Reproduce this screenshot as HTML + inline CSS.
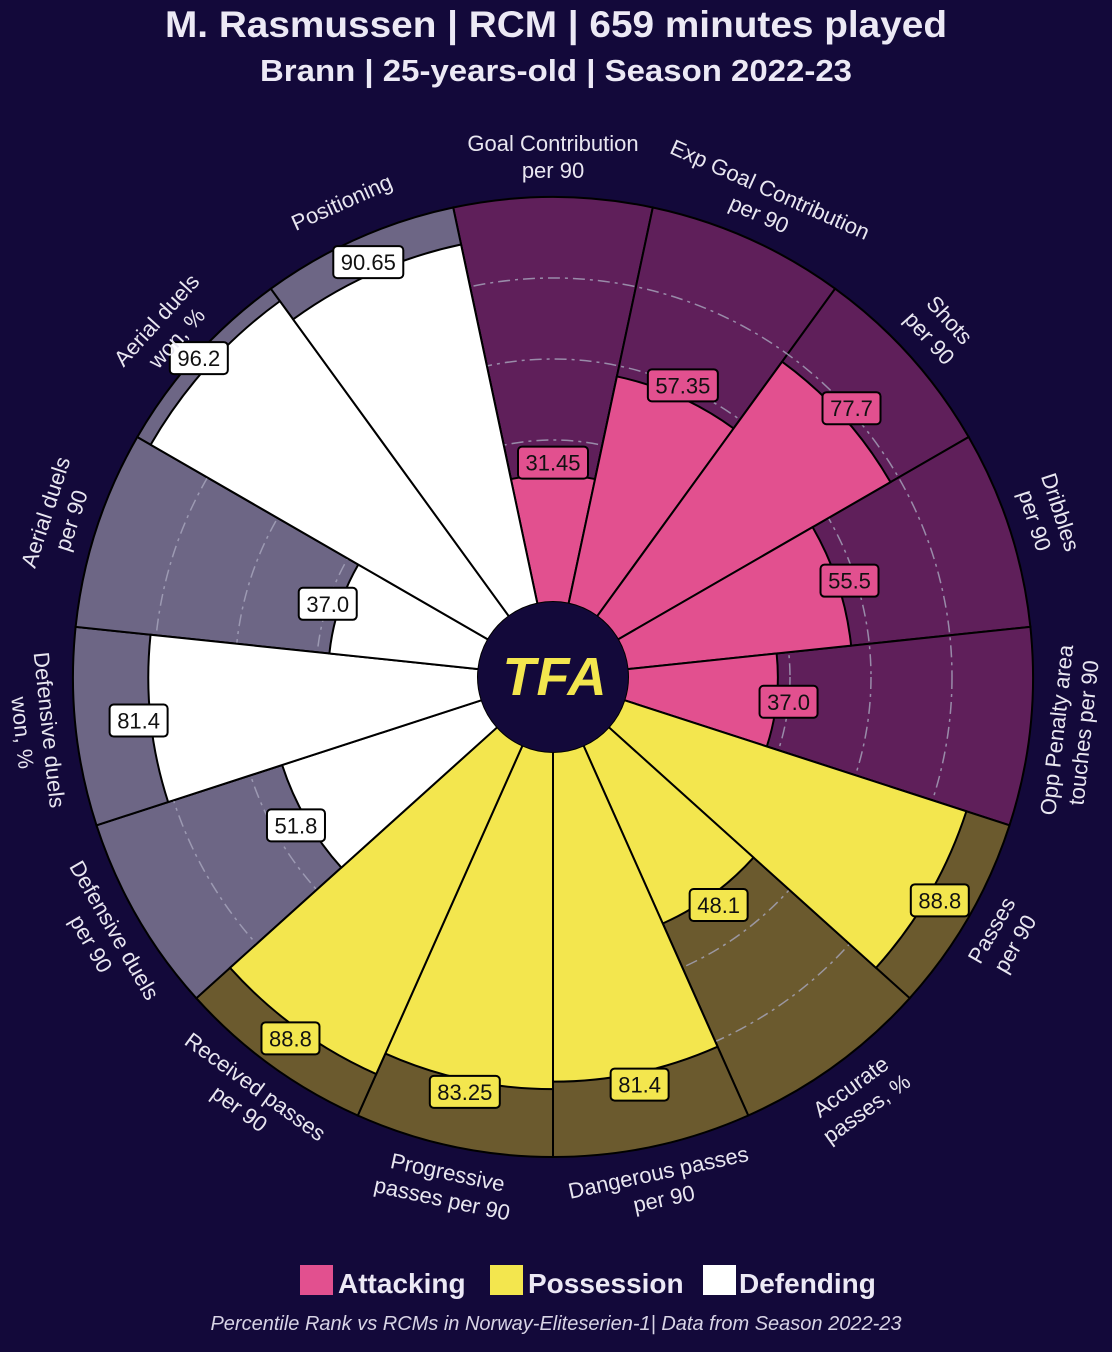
<!DOCTYPE html>
<html><head><meta charset="utf-8"><style>
html,body{margin:0;padding:0;background:#13093a;}
svg{display:block;font-family:"Liberation Sans",sans-serif;}
</style></head><body>
<svg id="s" width="1112" height="1352" viewBox="0 0 1112 1352" xmlns="http://www.w3.org/2000/svg">
<rect width="1112" height="1352" fill="#13093a"/>
<text x="556" y="37" text-anchor="middle" font-size="37" font-weight="bold" fill="#ece9f5" textLength="782" lengthAdjust="spacingAndGlyphs">M. Rasmussen | RCM | 659 minutes played</text>
<text x="556" y="81" text-anchor="middle" font-size="31" font-weight="bold" fill="#ece9f5" textLength="592" lengthAdjust="spacingAndGlyphs">Brann | 25-years-old | Season 2022-23</text>
<g id="chart"></g>
<circle cx="553" cy="677" r="75" fill="#13093a"/>
<text x="555" y="695" text-anchor="middle" font-size="54" font-weight="bold" font-style="italic" fill="#f3e64e" letter-spacing="1">TFA</text>
<rect x="300" y="1265" width="33" height="30" fill="#e2508f"/>
<text x="338" y="1293" font-size="28" font-weight="bold" fill="#ece9f5">Attacking</text>
<rect x="490" y="1265" width="33" height="30" fill="#f3e64e"/>
<text x="528" y="1293" font-size="28" font-weight="bold" fill="#ece9f5">Possession</text>
<rect x="703" y="1265" width="33" height="30" fill="#ffffff"/>
<text x="739" y="1293" font-size="28" font-weight="bold" fill="#ece9f5">Defending</text>
<text x="556" y="1330" text-anchor="middle" font-size="20" font-style="italic" fill="#d8d4e6">Percentile Rank vs RCMs in Norway-Eliteserien-1| Data from Season 2022-23</text>
</svg>
<script>
var cx=553,cy=677,R0=75,R=480;
function rv(v){return R0+4.05*v;}
function P(a,r){var t=a*Math.PI/180;return [cx+r*Math.sin(t),cy-r*Math.cos(t)];}
function wedge(a1,a2,r1,r2){var p1=P(a1,r1),p2=P(a1,r2),p3=P(a2,r2),p4=P(a2,r1);
return "M"+p1+" L"+p2+" A"+r2+" "+r2+" 0 0 1 "+p3+" L"+p4+" A"+r1+" "+r1+" 0 0 0 "+p1+" Z";}
var d=[
["Goal Contribution","per 90",31.45,"31.45",0],
["Exp Goal Contribution","per 90",57.35,"57.35",0],
["Shots","per 90",77.7,"77.7",0],
["Dribbles","per 90",55.5,"55.5",0],
["Opp Penalty area","touches per 90",37.0,"37.0",0],
["Passes","per 90",88.8,"88.8",1],
["Accurate","passes, %",48.1,"48.1",1],
["Dangerous passes","per 90",81.4,"81.4",1],
["Progressive","passes per 90",83.25,"83.25",1],
["Received passes","per 90",88.8,"88.8",1],
["Defensive duels","per 90",51.8,"51.8",2],
["Defensive duels","won, %",81.4,"81.4",2],
["Aerial duels","per 90",37.0,"37.0",2],
["Aerial duels","won, %",96.2,"96.2",2],
["Positioning","",90.65,"90.65",2]];
var bg=["#5f1f5a","#6b5a2e","#6d6685"],fg=["#e2508f","#f3e64e","#ffffff"];
var h="";
d.forEach(function(e,i){var a=i*24;h+='<path d="'+wedge(a-12,a+12,R0,R)+'" fill="'+bg[e[4]]+'" stroke="#000" stroke-width="2"/>';});
[40,60,80].forEach(function(p){h+='<circle cx="'+cx+'" cy="'+cy+'" r="'+rv(p)+'" fill="none" stroke="#a8a6bd" stroke-width="1.5" stroke-dasharray="12 5 3 5" opacity="0.8"/>';});
d.forEach(function(e,i){var a=i*24;h+='<path d="'+wedge(a-12,a+12,R0,rv(e[2]))+'" fill="'+fg[e[4]]+'" stroke="#000" stroke-width="2"/>';});
d.forEach(function(e,i){var a=i*24;var p=P(a,rv(e[2])+12);var w=e[3].length*12+10;
h+='<rect x="'+(p[0]-w/2)+'" y="'+(p[1]-16)+'" width="'+w+'" height="32" rx="4" fill="'+fg[e[4]]+'" stroke="#000" stroke-width="2"/>';
h+='<text x="'+p[0]+'" y="'+(p[1]+8)+'" text-anchor="middle" font-size="22" fill="#111">'+e[3]+'</text>';
var q=P(a,520);var rot=(a>90&&a<270)?a-180:(a>=270?a-360:a);
var g='<g transform="translate('+q[0]+','+q[1]+') rotate('+rot+')">';
if(e[1]){g+='<text x="0" y="-6" text-anchor="middle" font-size="22" fill="#e8e6f0">'+e[0]+'</text><text x="0" y="21" text-anchor="middle" font-size="22" fill="#e8e6f0">'+e[1]+'</text>';}
else g+='<text x="0" y="8" text-anchor="middle" font-size="22" fill="#e8e6f0">'+e[0]+'</text>';
h+=g+'</g>';});
document.getElementById("chart").innerHTML=h;
</script>
</body></html>
